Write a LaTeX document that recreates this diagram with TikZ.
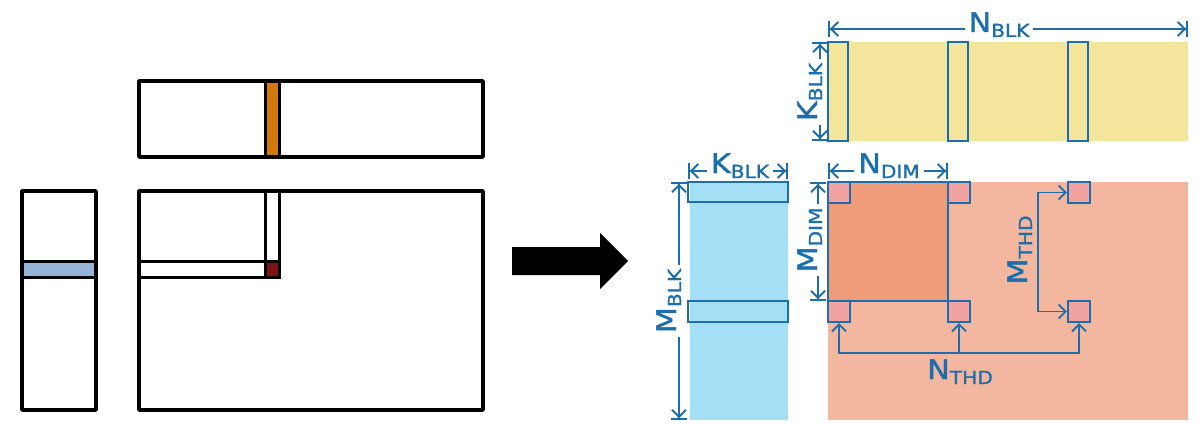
\documentclass[tikz,border=0pt]{standalone}
\usepackage{fontspec}
\usepackage{xcolor}
\usepackage{tikz}
\usetikzlibrary{arrows.meta}
\setmainfont{DejaVu Sans}
\newfontfamily\dimfont{DejaVu Sans}[FakeStretch=1.12,FakeBold=1.4]

\definecolor{dimblue}{RGB}{28,110,172}
\definecolor{tileyellow}{RGB}{244,229,156}
\definecolor{tilecyan}{RGB}{163,224,246}
\definecolor{tilesalmon}{RGB}{243,182,158}
\definecolor{tileorange}{RGB}{238,156,122}
\definecolor{thdpink}{RGB}{242,162,160}
\definecolor{colorange}{RGB}{209,122,10}
\definecolor{rowblue}{RGB}{149,180,216}
\definecolor{celldark}{RGB}{122,20,20}

% big letter with a lowered subscript
\def\dimtext#1#2{#1\raisebox{-5pt}{\fontsize{18}{18}\selectfont #2}}

\begin{document}
\begin{tikzpicture}[x=1pt,y=-1pt]
    \tikzstyle{mat}=[draw=black,line width=3.5pt,line join=round]
    \tikzstyle{slice}=[draw=black,line width=3pt]
    \tikzstyle{outl}=[draw=dimblue,line width=2.1pt]
    \tikzstyle{dim}=[draw=dimblue,line width=1.9pt,
      {Bar[width=16pt]Straight Barb[length=7pt,width=14pt]}-{Straight Barb[length=7pt,width=14pt]Bar[width=16pt]}]
    \tikzstyle{thd}=[draw=dimblue,line width=1.9pt,-{Straight Barb[length=7pt,width=14pt]}]
    \tikzstyle{thdboth}=[thd,{Straight Barb[length=7pt,width=14pt]}-{Straight Barb[length=7pt,width=14pt]}]
    \tikzstyle{lbl}=[text=dimblue,font=\dimfont\fontsize{27}{27}\selectfont,fill=white,
      inner xsep=4pt,inner ysep=1pt,anchor=base]
    \tikzstyle{tile}=[draw=dimblue,line width=2.1pt,fill=thdpink,
      minimum width=22pt,minimum height=21pt,inner sep=0pt]
    \useasboundingbox (0,0) rectangle (1201,425);

    % A, B and C with one row, one column and one element
    \fill[rowblue] (22,261) rectangle (96,277);
    \fill[colorange] (265,81) rectangle (279,157);
    \fill[celldark] (265,261) rectangle (279,277);
    \draw[slice] (22,261) -- (96,261) (22,277) -- (96,277);
    \draw[slice] (265,81) -- (265,157) (279,81) -- (279,157);
    \draw[slice] (139,277) -| (279,191);
    \draw[slice] (139,261) -- (279,261) (265,191) -- (265,277);
    \draw[mat] (22,191) rectangle (96,410);
    \draw[mat] (139,81) rectangle (483,157);
    \draw[mat] (139,191) rectangle (483,410);

    % block arrow
    \fill (512,247) -- (600,247) -- (600,233) -- (628,261) -- (600,289)
      -- (600,275) -- (512,275) -- cycle;

    % B tile
    \fill[tileyellow] (828,42) rectangle (1188,141);
    \foreach \x in {828,948,1068}
      \draw[outl] (\x,42) rectangle ++(20,99);

    % A tile
    \fill[tilecyan] (690,182) rectangle (788,420);
    \draw[outl] (688,182) rectangle (788,202);
    \draw[outl] (688,301) rectangle (788,322);

    % C tile, one block of threads and its corners
    \fill[tilesalmon] (828,182) rectangle (1188,420);
    \filldraw[outl,fill=tileorange] (828,182) rectangle (948,301);
    \foreach \r/\y in {1/192.5,2/311.5}
      \foreach \c/\x in {1/839,2/959,3/1079}
        \node[tile] (t\r\c) at (\x,\y) {};

    % sizes
    \coordinate (nblkL) at (828,29);   \coordinate (nblkR) at (1188,29);
    \coordinate (kblkT) at (820,42);   \coordinate (kblkB) at (820,141);
    \coordinate (kaL) at (688,171);    \coordinate (kaR) at (788,171);
    \coordinate (mblkT) at (679,182);  \coordinate (mblkB) at (679,420);
    \coordinate (ndimL) at (828,171);  \coordinate (ndimR) at (948,171);
    \coordinate (mdimT) at (818,182);  \coordinate (mdimB) at (818,301);
    \draw[dim] (nblkL) -- (nblkR);
    \draw[dim] (kblkT) -- (kblkB);
    \draw[dim] (kaL) -- (kaR);
    \draw[dim] (mblkT) -- (mblkB);
    \draw[dim] (ndimL) -- (ndimR);
    \draw[dim] (mdimT) -- (mdimB);
    \draw[thdboth] (t13.west) -- ++(-29,0) |- (t23.west);
    \draw[thdboth] (t21.south) -- ++(0,30) -| (t23.south);
    \draw[thd] ([yshift=-30pt]t22.south) -- (t22.south);

    \node[lbl] (Nblk) at (999,32) {\dimtext{N}{BLK}};
    \node[lbl,rotate=90] (Kblk) at (817,92) {\dimtext{K}{BLK}};
    \node[lbl] (Ka) at (740,173) {\dimtext{K}{BLK}};
    \node[lbl,rotate=90] (Mblk) at (676,301) {\dimtext{M}{BLK}};
    \node[lbl] (Ndim) at (889,173) {\dimtext{N}{DIM}};
    \node[lbl,rotate=90] (Mdim) at (817,240) {\dimtext{M}{DIM}};
    \node[lbl,fill=none,rotate=90] (Mthd) at (1027,250) {\dimtext{M}{THD}};
    \node[lbl,fill=none] (Nthd) at (960,379) {\dimtext{N}{THD}};
\end{tikzpicture}
\end{document}
